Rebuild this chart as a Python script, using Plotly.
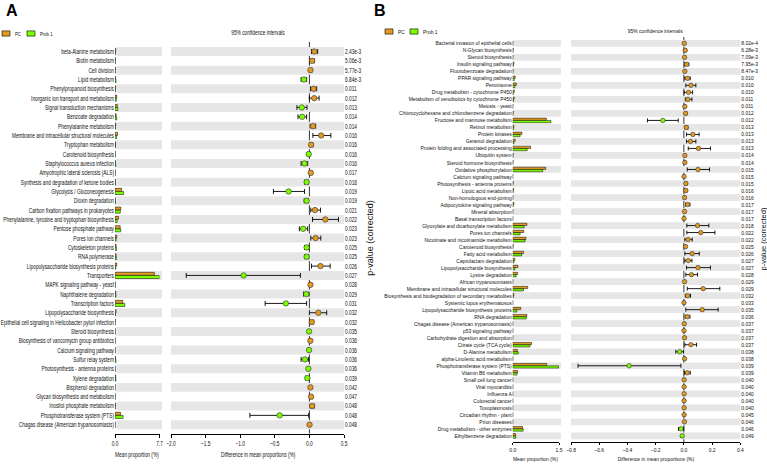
import plotly.graph_objects as go

W, H = 767, 464
FONT = "Liberation Sans, Arial, sans-serif"
PC_COLOR = "#E39A22"
PROB_COLOR = "#7CFC00"
BAND = "#E6E6E6"

# ---------------- Panel A data ----------------
a_labels = [
    "beta-Alanine metabolism", "Biotin metabolism", "Cell division", "Lipid metabolism",
    "Phenylpropanoid biosynthesis", "Inorganic ion transport and metabolism",
    "Signal transduction mechanisms", "Benzoate degradation", "Phenylalanine metabolism",
    "Membrane and intracellular structural molecules", "Tryptophan metabolism",
    "Carotenoid biosynthesis", "Staphylococcus aureus infection",
    "Amyotrophic lateral sclerosis (ALS)", "Synthesis and degradation of ketone bodies",
    "Glycolysis / Gluconeogenesis", "Dioxin degradation",
    "Carbon fixation pathways in prokaryotes",
    "Phenylalanine, tyrosine and tryptophan biosynthesis", "Pentose phosphate pathway",
    "Pores ion channels", "Cytoskeleton proteins", "RNA polymerase",
    "Lipopolysaccharide biosynthesis proteins", "Transporters",
    "MAPK signaling pathway - yeast", "Naphthalene degradation", "Transcription factors",
    "Lipopolysaccharide biosynthesis",
    "Epithelial cell signaling in Helicobacter pylori infection", "Steroid biosynthesis",
    "Biosynthesis of vancomycin group antibiotics", "Calcium signaling pathway",
    "Sulfur relay system", "Photosynthesis - antenna proteins", "Xylene degradation",
    "Bisphenol degradation", "Glycan biosynthesis and metabolism",
    "Inositol phosphate metabolism", "Phosphotransferase system (PTS)",
    "Chagas disease (American trypanosomiasis)",
]
a_pc = [0.15, 0.08, 0.07, 0.10, 0.12, 0.30, 0.40, 0.20, 0.15, 0.45, 0.12, 0.03, 0.08, 0.04,
        0.06, 1.16, 0.06, 1.00, 0.60, 0.90, 0.30, 0.20, 0.20, 0.30, 6.80, 0.04, 0.14, 1.35,
        0.20, 0.05, 0.03, 0.03, 0.02, 0.10, 0.02, 0.12, 0.03, 0.04, 0.10, 0.95, 0.02]
a_prob = [0.10, 0.05, 0.05, 0.18, 0.06, 0.23, 0.50, 0.30, 0.10, 0.28, 0.10, 0.04, 0.15, 0.02,
          0.10, 1.50, 0.10, 0.92, 0.37, 1.00, 0.20, 0.24, 0.24, 0.15, 7.70, 0.03, 0.18, 1.70,
          0.10, 0.02, 0.03, 0.02, 0.03, 0.17, 0.04, 0.15, 0.02, 0.02, 0.06, 1.40, 0.02]
a_diff = [0.072, 0.04, 0.015, -0.08, 0.06, 0.07, -0.11, -0.105, 0.053, 0.17, 0.024, -0.01,
          -0.07, 0.02, -0.04, -0.30, -0.04, 0.08, 0.23, -0.09, 0.09, -0.04, -0.04, 0.16,
          -0.95, 0.015, -0.045, -0.34, 0.13, 0.035, -0.005, 0.014, -0.005, -0.065, -0.015,
          -0.03, 0.015, 0.024, 0.04, -0.43, 0.002]
a_lo = [0.03, 0.01, 0.0, -0.12, 0.015, 0.0, -0.18, -0.165, 0.01, 0.05, 0.005, -0.03, -0.12,
        0.005, -0.07, -0.52, -0.075, 0.02, 0.045, -0.145, 0.02, -0.07, -0.065, 0.03, -1.78,
        0.0, -0.085, -0.64, 0.0, 0.01, -0.015, 0.0, -0.015, -0.12, -0.03, -0.055, 0.0, 0.01,
        0.01, -0.86, -0.005]
a_hi = [0.12, 0.07, 0.035, -0.04, 0.105, 0.14, -0.035, -0.04, 0.09, 0.31, 0.05, 0.01, -0.025,
        0.035, -0.015, -0.07, -0.015, 0.16, 0.42, -0.025, 0.165, -0.01, -0.01, 0.30, -0.13,
        0.03, -0.005, -0.04, 0.25, 0.06, 0.005, 0.03, 0.005, -0.015, 0.0, -0.005, 0.03, 0.045,
        0.07, -0.01, 0.01]
a_p = ["2.43e-3", "5.06e-3", "5.77e-3", "6.84e-3", "0.011", "0.012", "0.013", "0.014",
       "0.014", "0.016", "0.016", "0.016", "0.016", "0.017", "0.018", "0.019", "0.019",
       "0.021", "0.022", "0.023", "0.023", "0.025", "0.025", "0.026", "0.027", "0.028",
       "0.029", "0.031", "0.032", "0.032", "0.035", "0.036", "0.036", "0.036", "0.036",
       "0.039", "0.042", "0.047", "0.048", "0.048", "0.048"]
a_bar_ticks = [0.0, 7.7]
a_bar_ticktext = ["0.0", "7.7"]
a_diff_ticks = [-2.0, -1.5, -1.0, -0.5, 0.0, 0.5]
a_diff_ticktext = ["\u22122.0", "\u22121.5", "\u22121.0", "\u22120.5", "0.0", "0.5"]

# ---------------- Panel B data ----------------
b_labels = [
    "Bacterial invasion of epithelial cells", "N-Glycan biosynthesis", "Steroid biosynthesis",
    "Insulin signaling pathway", "Fluorobenzoate degradation", "PPAR signaling pathway",
    "Peroxisome", "Drug metabolism - cytochrome P450",
    "Metabolism of xenobiotics by cytochrome P450", "Meiosis - yeast",
    "Chlorocyclohexane and chlorobenzene degradation", "Fructose and mannose metabolism",
    "Retinol metabolism", "Protein kinases", "Geraniol degradation",
    "Protein folding and associated processing", "Ubiquitin system",
    "Steroid hormone biosynthesis", "Oxidative phosphorylation", "Calcium signaling pathway",
    "Photosynthesis - antenna proteins", "Lipoic acid metabolism",
    "Non-homologous end-joining", "Adipocytokine signaling pathway", "Mineral absorption",
    "Basal transcription factors", "Glyoxylate and dicarboxylate metabolism",
    "Pores ion channels", "Nicotinate and nicotinamide metabolism",
    "Carotenoid biosynthesis", "Fatty acid metabolism", "Caprolactam degradation",
    "Lipopolysaccharide biosynthesis", "Lysine degradation", "African trypanosomiasis",
    "Membrane and intracellular structural molecules",
    "Biosynthesis and biodegradation of secondary metabolites",
    "Systemic lupus erythematosus", "Lipopolysaccharide biosynthesis proteins",
    "RNA degradation", "Chagas disease (American trypanosomiasis)", "p53 signaling pathway",
    "Carbohydrate digestion and absorption", "Citrate cycle (TCA cycle)",
    "D-Alanine metabolism", "alpha-Linolenic acid metabolism",
    "Phosphotransferase system (PTS)", "Vitamin B6 metabolism", "Small cell lung cancer",
    "Viral myocarditis", "Influenza A", "Colorectal cancer", "Toxoplasmosis",
    "Circadian rhythm - plant", "Prion diseases", "Drug metabolism - other enzymes",
    "Ethylbenzene degradation",
]
b_pc = [0.010, 0.020, 0.010, 0.040, 0.015, 0.080, 0.120, 0.050, 0.050, 0.010, 0.020, 1.09,
        0.040, 0.30, 0.080, 0.58, 0.020, 0.015, 1.07, 0.005, 0.020, 0.030, 0.010, 0.040,
        0.010, 0.004, 0.46, 0.36, 0.43, 0.020, 0.35, 0.070, 0.17, 0.16, 0.010, 0.49, 0.040,
        0.004, 0.26, 0.46, 0.005, 0.004, 0.006, 0.61, 0.15, 0.010, 1.10, 0.16, 0.005, 0.005,
        0.005, 0.005, 0.005, 0.005, 0.006, 0.32, 0.09]
b_prob = [0.005, 0.010, 0.005, 0.020, 0.008, 0.050, 0.070, 0.020, 0.025, 0.005, 0.010, 1.24,
          0.025, 0.24, 0.040, 0.47, 0.010, 0.008, 0.97, 0.004, 0.008, 0.020, 0.005, 0.020,
          0.006, 0.004, 0.37, 0.24, 0.40, 0.008, 0.29, 0.040, 0.07, 0.11, 0.005, 0.35, 0.020,
          0.004, 0.13, 0.44, 0.003, 0.004, 0.004, 0.56, 0.18, 0.005, 1.49, 0.14, 0.004, 0.004,
          0.004, 0.004, 0.004, 0.004, 0.004, 0.34, 0.10]
b_diff = [0.003, 0.010, 0.005, 0.020, 0.007, 0.026, 0.050, 0.033, 0.028, 0.007, 0.012, -0.149,
          0.017, 0.064, 0.047, 0.104, 0.007, 0.007, 0.100, 0.001, 0.014, 0.014, 0.005, 0.026,
          0.005, 0.001, 0.097, 0.120, 0.030, 0.012, 0.059, 0.031, 0.100, 0.054, 0.005, 0.137,
          0.026, 0.001, 0.130, 0.024, 0.003, 0.001, 0.005, 0.050, -0.030, 0.005, -0.388, 0.024,
          0.002, 0.002, 0.002, 0.002, 0.002, 0.002, 0.004, -0.020, -0.012]
b_lo = [0.001, 0.004, 0.002, 0.007, 0.003, 0.007, 0.014, 0.002, 0.010, 0.003, 0.004, -0.258,
        0.006, 0.019, 0.019, 0.031, 0.003, 0.003, 0.024, 0.0, 0.006, 0.006, 0.002, 0.012,
        0.002, 0.0, 0.021, 0.021, 0.007, 0.008, 0.007, 0.007, 0.019, 0.014, 0.002, 0.024,
        0.010, 0.0, 0.014, 0.010, 0.001, 0.0, 0.002, 0.007, -0.057, 0.002, -0.75, 0.005,
        0.001, 0.001, 0.001, 0.001, 0.001, 0.001, 0.002, -0.038, -0.019]
b_hi = [0.005, 0.016, 0.008, 0.035, 0.011, 0.045, 0.085, 0.062, 0.057, 0.011, 0.021, -0.040,
        0.028, 0.108, 0.085, 0.189, 0.011, 0.011, 0.182, 0.002, 0.022, 0.022, 0.008, 0.043,
        0.008, 0.002, 0.177, 0.220, 0.059, 0.016, 0.109, 0.057, 0.189, 0.097, 0.008, 0.255,
        0.047, 0.002, 0.243, 0.043, 0.005, 0.002, 0.008, 0.090, -0.002, 0.008, -0.021, 0.045,
        0.003, 0.003, 0.003, 0.003, 0.003, 0.003, 0.006, -0.001, -0.002]
b_p = ["8.02e-4", "6.28e-3", "7.09e-3", "7.95e-3", "8.47e-3", "0.010", "0.010", "0.010",
       "0.011", "0.011", "0.012", "0.012", "0.013", "0.013", "0.013", "0.013", "0.014",
       "0.014", "0.015", "0.015", "0.015", "0.016", "0.016", "0.017", "0.017", "0.017",
       "0.018", "0.022", "0.022", "0.025", "0.026", "0.027", "0.027", "0.028", "0.029",
       "0.029", "0.032", "0.033", "0.035", "0.036", "0.037", "0.037", "0.037", "0.037",
       "0.038", "0.038", "0.039", "0.039", "0.040", "0.040", "0.040", "0.040", "0.040",
       "0.045", "0.046", "0.046", "0.049"]
b_bar_ticks = [0.0, 1.5]
b_bar_ticktext = ["0.0", "1.5"]
b_diff_ticks = [-0.8, -0.6, -0.4, -0.2, 0.0, 0.2, 0.4]
b_diff_ticktext = ["\u22120.8", "\u22120.6", "\u22120.4", "\u22120.2", "0.0", "0.2", "0.4"]

group_names = ["PC", "Prob 1"]


def fx(px):
    return px / W


def fy(py):
    return 1 - py / H


fig = go.Figure()
shapes = []
annotations = []
layout_axes = {}
squeeze_ann = []  # (annotation index, factor)

panels = [
    dict(letter="A", labels=a_labels, pc=a_pc, prob=a_prob, diff=a_diff, lo=a_lo, hi=a_hi,
         p=a_p, bar_ticks=a_bar_ticks, bar_tt=a_bar_ticktext, diff_ticks=a_diff_ticks,
         diff_tt=a_diff_ticktext, bar_max=7.7, diff_rng=[-2.0, 0.5],
         y0=51.5, dy=9.33, top=42, bot=433.5,
         bar_dom=(115, 159.5), band_bar=(116.5, 162), diff_dom=(171, 344),
         letter_x=4, legend_x=2, legend_y=33.5, title_y=33, pv_x=370,
         pv_size=9, xt_y=455, ax=("x", "y", "x2", "y2"), cap=2.5, msize=5.5,
         fs=7, sq=0.685, ticklen=3, leg_fs=6.2),
    dict(letter="B", labels=b_labels, pc=b_pc, prob=b_prob, diff=b_diff, lo=b_lo, hi=b_hi,
         p=b_p, bar_ticks=b_bar_ticks, bar_tt=b_bar_ticktext, diff_ticks=b_diff_ticks,
         diff_tt=b_diff_ticktext, bar_max=1.5, diff_rng=[-0.8, 0.4],
         y0=43.3, dy=7.01, top=37, bot=442,
         bar_dom=(512.7, 559), band_bar=(513.5, 561), diff_dom=(571, 740.3),
         letter_x=372, legend_x=385, legend_y=31.5, title_y=30.7, pv_x=763,
         pv_size=7.5, xt_y=459, ax=("x3", "y3", "x4", "y4"), cap=2, msize=4.5,
         fs=5.8, sq=0.85, ticklen=2, leg_fs=5.8),
]

for P in panels:
    n = len(P["labels"])
    idx = list(range(n))
    xb, yb, xd, yd = P["ax"]
    r_top = (P["top"] - P["y0"]) / P["dy"]
    r_bot = (P["bot"] - P["y0"]) / P["dy"]
    ydom = [fy(P["bot"]), fy(P["top"])]
    tickfont = dict(family=FONT, size=P["fs"], color="#111111")

    # zero line (under the bands)
    shapes.append(dict(type="line", xref=xd, yref="paper", x0=0, x1=0,
                       y0=fy(P["bot"]), y1=fy(P["top"]),
                       line=dict(color="black", width=0.8), layer="below"))
    # alternating bands
    for i in range(0, n, 2):
        for (a, b) in (P["band_bar"], P["diff_dom"]):
            shapes.append(dict(type="rect", xref="paper", yref=yb, x0=fx(a), x1=fx(b),
                               y0=i - 0.48, y1=i + 0.48, fillcolor=BAND,
                               line=dict(width=0), layer="below"))

    # bars
    fig.add_trace(go.Bar(x=P["pc"], y=idx, orientation="h", xaxis=xb, yaxis=yb,
                         name=group_names[0], width=0.32, offset=-0.33,
                         marker=dict(color=PC_COLOR, line=dict(color="black", width=0.5))))
    fig.add_trace(go.Bar(x=P["prob"], y=idx, orientation="h", xaxis=xb, yaxis=yb,
                         name=group_names[1], width=0.32, offset=0.01,
                         marker=dict(color=PROB_COLOR, line=dict(color="black", width=0.5))))

    # difference + CI
    colors = [PC_COLOR if d > 0 else PROB_COLOR for d in P["diff"]]
    fig.add_trace(go.Scatter(
        x=P["diff"], y=idx, xaxis=xd, yaxis=yd, mode="markers",
        marker=dict(color=colors, size=P["msize"], line=dict(color="#333333", width=0.6)),
        error_x=dict(type="data", symmetric=False,
                     array=[h - d for h, d in zip(P["hi"], P["diff"])],
                     arrayminus=[d - l for d, l in zip(P["diff"], P["lo"])],
                     color="black", thickness=0.9, width=P["cap"]),
        showlegend=False))

    xb_key = "xaxis" if xb == "x" else "xaxis" + xb[1:]
    xd_key = "xaxis" + xd[1:]
    yb_key = "yaxis" if yb == "y" else "yaxis" + yb[1:]
    yd_key = "yaxis" + yd[1:]
    common_x = dict(showgrid=False, zeroline=False, showline=True, linecolor="black",
                    linewidth=1, ticks="outside", ticklen=P["ticklen"], tickwidth=1,
                    tickcolor="black", tickfont=tickfont, automargin=False,
                    fixedrange=True)
    layout_axes[xb_key] = dict(domain=[fx(P["bar_dom"][0]), fx(P["bar_dom"][1])],
                               range=[0, P["bar_max"]], anchor=yb,
                               tickvals=P["bar_ticks"], ticktext=P["bar_tt"], **common_x)
    layout_axes[xd_key] = dict(domain=[fx(P["diff_dom"][0]), fx(P["diff_dom"][1])],
                               range=P["diff_rng"], anchor=yd,
                               tickvals=P["diff_ticks"], ticktext=P["diff_tt"], **common_x)
    layout_axes[yb_key] = dict(domain=ydom, range=[r_bot, r_top], anchor=xb,
                               showgrid=False, zeroline=False, showline=False, ticks="",
                               tickvals=idx, ticktext=P["labels"], tickfont=tickfont,
                               automargin=False, fixedrange=True)
    layout_axes[yd_key] = dict(domain=ydom, range=[r_bot, r_top], anchor=xd, side="right",
                               showgrid=False, zeroline=False, showline=False, ticks="",
                               tickvals=idx, ticktext=P["p"], tickfont=tickfont,
                               automargin=False, fixedrange=True)

    # panel letter
    annotations.append(dict(x=fx(P["letter_x"]), y=fy(11), xref="paper", yref="paper",
                            text="<b>%s</b>" % P["letter"], showarrow=False,
                            xanchor="left", yanchor="middle",
                            font=dict(family=FONT, size=16, color="black")))
    # legend
    lx, ly = P["legend_x"], P["legend_y"]
    legfont = dict(family=FONT, size=P["leg_fs"], color="#111111")
    for k, (col, name) in enumerate(((PC_COLOR, group_names[0]),
                                     (PROB_COLOR, group_names[1]))):
        x0 = lx + k * 25
        shapes.append(dict(type="rect", xref="paper", yref="paper", x0=fx(x0), x1=fx(x0 + 8),
                           y0=fy(ly + 2.6), y1=fy(ly - 2.6), fillcolor=col,
                           line=dict(color="black", width=0.6)))
        squeeze_ann.append((len(annotations), P["sq"]))
        annotations.append(dict(x=fx(x0 + 11), y=fy(ly), xref="paper", yref="paper",
                                text=name, showarrow=False, xanchor="left", align="left",
                                yanchor="middle", font=legfont))
    # titles
    dc = (P["diff_dom"][0] + P["diff_dom"][1]) / 2
    bc = (P["bar_dom"][0] + P["bar_dom"][1]) / 2
    for (tx, ty, txt) in ((dc, P["title_y"], "95% confidence intervals"),
                          (bc, P["xt_y"], "Mean proportion (%)"),
                          (dc, P["xt_y"], "Difference in mean proportions (%)")):
        squeeze_ann.append((len(annotations), P["sq"]))
        annotations.append(dict(x=fx(tx), y=fy(ty), xref="paper", yref="paper",
                                text=txt, showarrow=False, xanchor="center",
                                yanchor="middle", font=tickfont))
    annotations.append(dict(x=fx(P["pv_x"]), y=fy((P["top"] + P["bot"]) / 2),
                            xref="paper", yref="paper", text="p-value (corrected)",
                            showarrow=False, textangle=-90, xanchor="center",
                            yanchor="middle",
                            font=dict(family=FONT, size=P["pv_size"], color="#111111")))

fig.update_layout(
    width=W, height=H, margin=dict(l=0, r=0, t=0, b=0),
    paper_bgcolor="white", plot_bgcolor="white",
    barmode="overlay", showlegend=False, hovermode=False,
    shapes=shapes, annotations=annotations,
    **layout_axes,
)

ann_js = "\n".join(
    "squeeze('.annotation[data-index=\"%d\"] text', %.3f);" % (i, f) for i, f in squeeze_ann)
post_js = """
document.body.style.margin = '0';
document.body.style.padding = '0';
function squeeze(sel, f) {
  document.querySelectorAll(sel).forEach(function (t) {
    var w = t.getComputedTextLength();
    if (w > 0) {
      t.setAttribute('textLength', (w * f).toFixed(2));
      t.setAttribute('lengthAdjust', 'spacingAndGlyphs');
    }
  });
}
squeeze('.xtick text, .x2tick text, .ytick text, .y2tick text', %.3f);
squeeze('.x3tick text, .x4tick text, .y3tick text, .y4tick text', %.3f);
%s
""" % (panels[0]["sq"], panels[1]["sq"], ann_js)

fig.write_html("out.html", post_script=post_js,
               config={"displayModeBar": False, "staticPlot": True})
